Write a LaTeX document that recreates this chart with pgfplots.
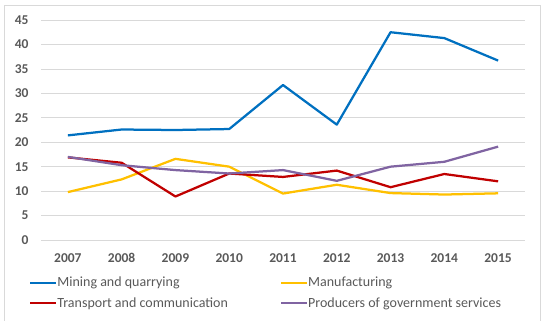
\documentclass[border=0pt]{standalone}
\usepackage{fontspec}
\setmainfont{Carlito}
\usepackage{pgfplots}
\pgfplotsset{compat=1.18}
\definecolor{cblue}{HTML}{0070C0}
\definecolor{cyellow}{HTML}{FFC000}
\definecolor{cred}{HTML}{C00000}
\definecolor{cpurple}{HTML}{8064A2}
\definecolor{txtgray}{HTML}{595959}
\definecolor{gridgray}{HTML}{D9D9D9}
\begin{document}
\begin{tikzpicture}[x=1bp,y=1bp]
\path[use as bounding box] (0,0) rectangle (542,320);
\draw[gridgray, line width=0.75bp] (4,-5) rectangle (540,315);
\begin{axis}[
  at={(41bp,80bp)}, anchor=south west,
  scale only axis, width=484bp, height=220bp,
  xmin=2006.5, xmax=2015.5, ymin=0, ymax=45,
  xtick={2007,...,2015}, ytick={0,5,...,45},
  /pgf/number format/assume math mode=true,
  xticklabel style={/pgf/number format/1000 sep={}, yshift=-10bp},
  yticklabel style={xshift=-9bp},
  ticklabel style={font=\fontsize{13.5bp}{15bp}\selectfont\bfseries, text=txtgray},
  axis line style={draw=none}, tick style={draw=none},
  ymajorgrids, grid style={gridgray, line width=0.75bp},
  every axis plot/.append style={line width=2.25bp, line join=round, mark=none},
  legend columns=2,
  legend style={at={(0,0)}, anchor=north west, xshift=-12bp, yshift=-35bp, draw=none, fill=none,
    font=\fontsize{14bp}{16bp}\selectfont, text=txtgray, row sep=5bp,
    /tikz/every even column/.append style={column sep=50bp},
    /tikz/every odd column/.append style={column sep=-2bp},
    inner sep=0bp},
  legend cell align=left,
  legend image code/.code={\draw[#1] (0bp,0bp) -- (26bp,0bp);},
]
\addplot[cblue] coordinates {(2007,21.4) (2008,22.6) (2009,22.5) (2010,22.7) (2011,31.7) (2012,23.6) (2013,42.5) (2014,41.3) (2015,36.7)};
\addlegendentry{Mining and quarrying}
\addplot[cyellow] coordinates {(2007,9.8) (2008,12.4) (2009,16.6) (2010,15.0) (2011,9.5) (2012,11.3) (2013,9.6) (2014,9.3) (2015,9.55)};
\addlegendentry{Manufacturing}
\addplot[cred] coordinates {(2007,16.9) (2008,15.8) (2009,8.9) (2010,13.6) (2011,12.9) (2012,14.2) (2013,10.8) (2014,13.5) (2015,12.0)};
\addlegendentry{Transport and communication}
\addplot[cpurple] coordinates {(2007,17.0) (2008,15.3) (2009,14.3) (2010,13.6) (2011,14.3) (2012,12.1) (2013,15.0) (2014,16.0) (2015,19.1)};
\addlegendentry{Producers of government services}
\end{axis}
\end{tikzpicture}
\end{document}
